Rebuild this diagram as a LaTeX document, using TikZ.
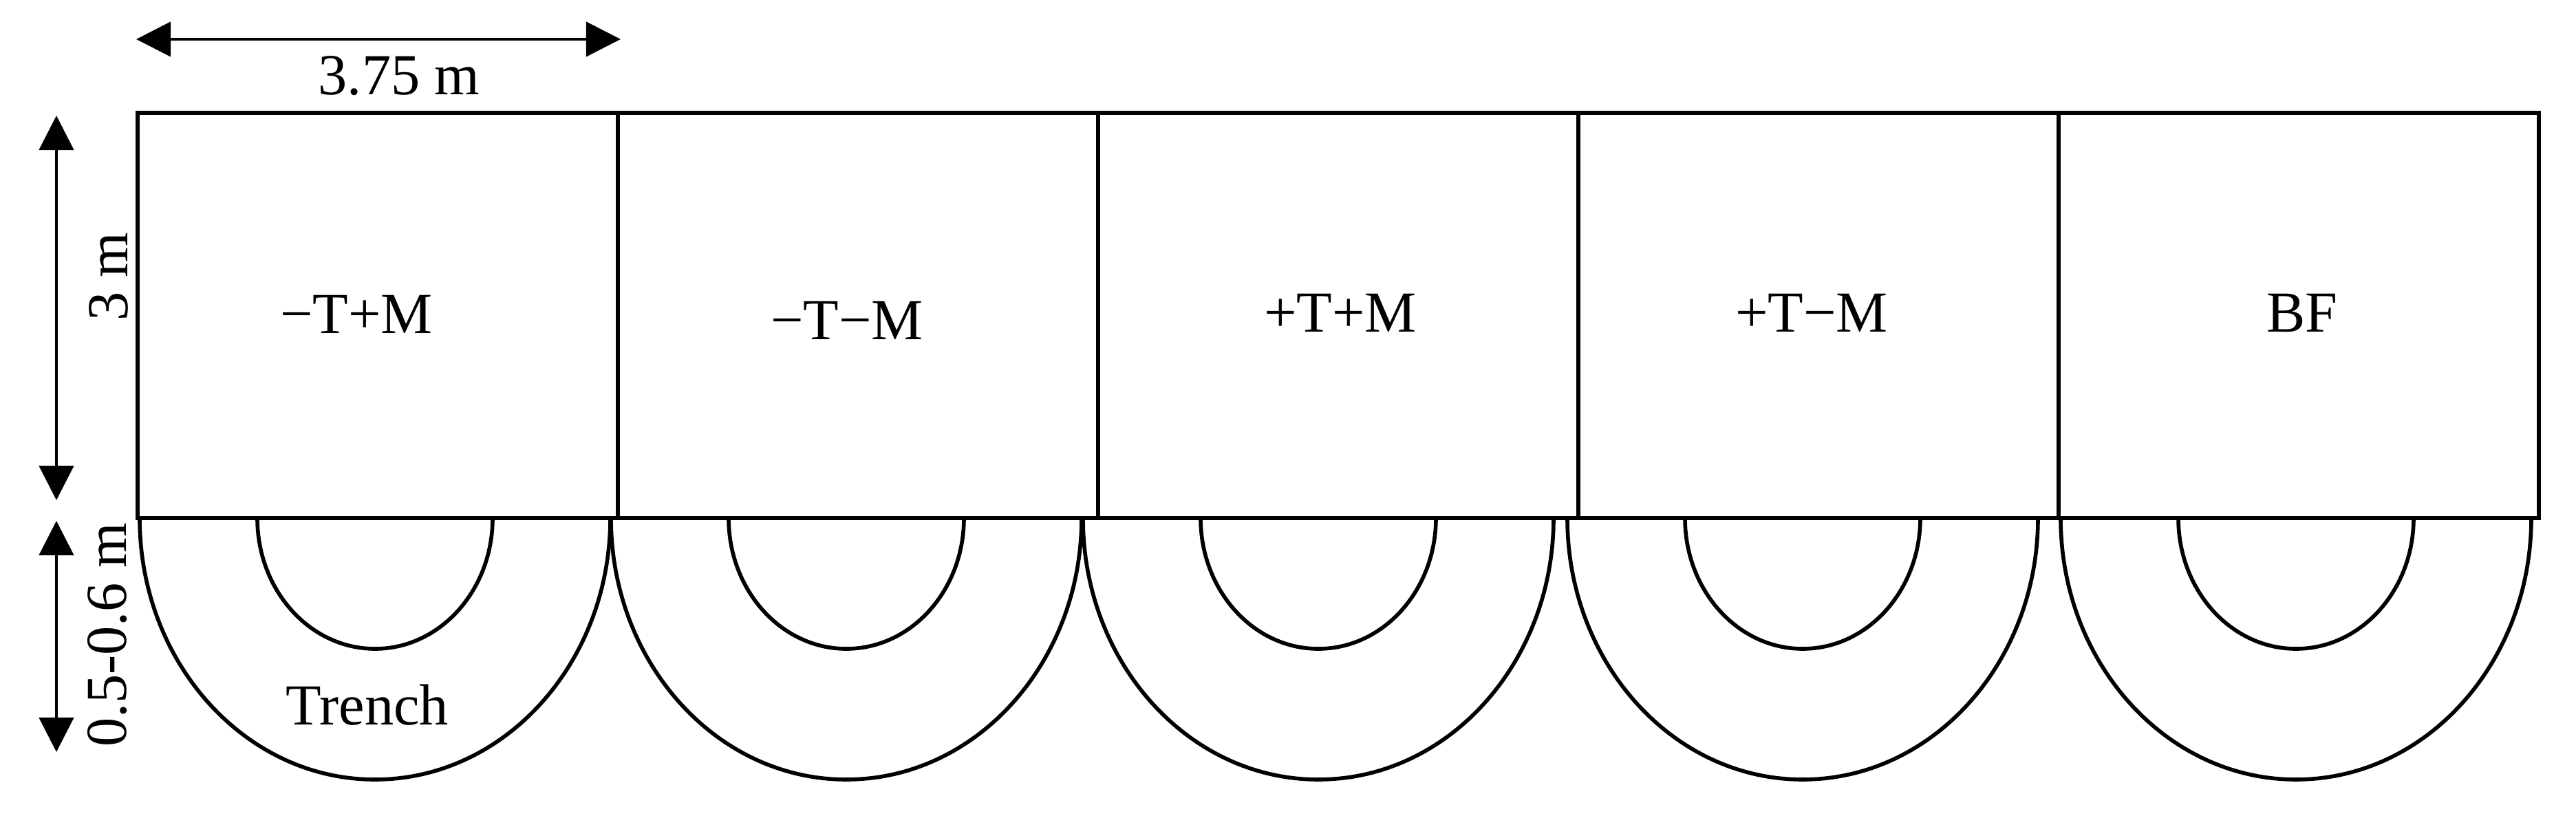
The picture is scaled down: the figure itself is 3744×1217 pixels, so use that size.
\documentclass[tikz,border=0pt]{standalone}
\usepackage{fontspec}
\setmainfont{Liberation Serif}
\usetikzlibrary{arrows.meta}

\begin{document}
\begin{tikzpicture}[x=0.01cm, y=0.01cm, every node/.style={font=\fontsize{24}{28}\selectfont}, >={Triangle[length=5mm, width=5mm]},
	plot/.style={draw, line width=1.6pt, minimum width=6.98cm, minimum height=5.89cm, inner sep=0pt},
	dim/.style={<->, line width=1.2pt},
	trench/.style={line width=1.6pt}]
	\useasboundingbox (0,0) rectangle (3744,1217);
	\foreach \lab/\dx/\dy [count=\i] in {−T+M/-31/2, −T−M/-16/-7, +T+M/3/4, +T−M/-10/4, BF/5/4} {
		\node[plot] (p\i) at (698*\i-149, 758.5) {};
		\node (l\i) at ([xshift=\dx*0.01cm, yshift=\dy*0.01cm]p\i.center) {\lab};
	}
	\foreach \cx in {545,1230,1916,2620,3337} {\draw[trench] (\cx-342,464) arc[start angle=180, end angle=360, x radius=342, y radius=380] -- (\cx+171,464) arc[start angle=0, end angle=-180, x radius=171, y radius=190] -- cycle;}
	\coordinate (w0) at (198,1160); \coordinate (w1) at (902,1160);
	\draw[dim] (w0) -- (w1);
	\node[anchor=base] (wlab) at (580,1079) {3.75 m};
	\coordinate (h0) at (82,1049); \coordinate (h1) at (82,490);
	\draw[dim] (h0) -- (h1);
	\node[anchor=base, rotate=90] (hlab) at (185,815) {3 m};
	\coordinate (d0) at (82,460); \coordinate (d1) at (82,124);
	\draw[dim] (d0) -- (d1);
	\node[anchor=base, rotate=90] (dlab) at (183,294) {0.5-0.6 m};
	\node[anchor=base] (tlab) at (534,164) {Trench};
\end{tikzpicture}
\end{document}
